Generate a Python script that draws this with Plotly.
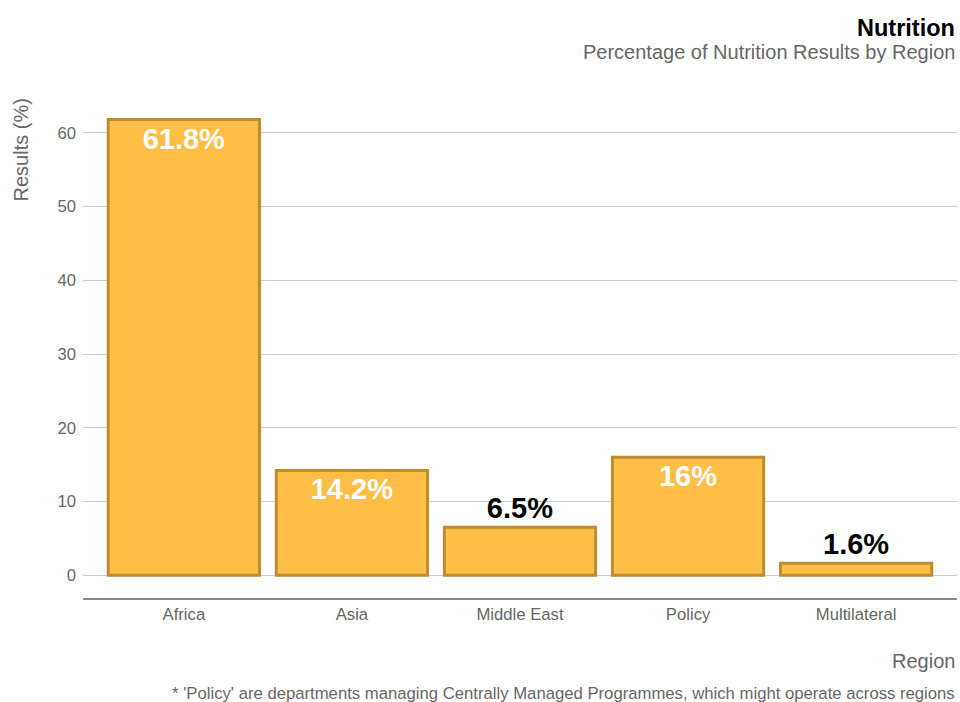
import plotly.graph_objects as go

regions = ["Africa", "Asia", "Middle East", "Policy", "Multilateral"]
results = [61.8, 14.2, 6.5, 16, 1.6]
labels = ["61.8%", "14.2%", "6.5%", "16%", "1.6%"]
positions = ["inside", "inside", "outside", "inside", "outside"]
y_ticks = [0, 10, 20, 30, 40, 50, 60]

FONT = "Liberation Sans, Arial, sans-serif"

fig = go.Figure()
fig.add_trace(go.Bar(
    x=regions, y=results, text=labels, textposition=positions,
    insidetextanchor="end",
    insidetextfont=dict(family=FONT, size=29, color="white", weight="bold"),
    outsidetextfont=dict(family=FONT, size=29, color="black", weight="bold"),
    marker=dict(color="#FFBE46", line=dict(color="#C08C30", width=3)),
    width=0.9, cliponaxis=False, hoverinfo="x+y",
))

fig.update_layout(
    width=960, height=702,
    margin=dict(l=83, r=3, t=96, b=104),
    paper_bgcolor="white", plot_bgcolor="white",
    font=dict(family=FONT, color="#666666"),
    showlegend=False,
    xaxis=dict(
        range=[-0.6, 4.6], showline=True, linecolor="#888888", linewidth=2,
        tickfont=dict(size=16.7, color="#666666"), showgrid=False, ticks="",
    ),
    yaxis=dict(
        range=[-3.1, 65], tickvals=y_ticks, gridcolor="#cccccc", gridwidth=1,
        tickfont=dict(size=16.7, color="#666666"), zeroline=False, ticks="",
        ticklabelstandoff=6,
    ),
    annotations=[
        dict(text="<b>Nutrition</b>", xref="paper", yref="paper", x=1, y=1,
             xanchor="right", yanchor="middle", yshift=68, showarrow=False,
             font=dict(size=23.5, color="black")),
        dict(text="Percentage of Nutrition Results by Region", xref="paper", yref="paper",
             x=1, y=1, xanchor="right", yanchor="middle", yshift=44, showarrow=False,
             font=dict(size=20, color="#666666")),
        dict(text="Results (%)", xref="paper", yref="paper", x=0, y=1, xshift=-63,
             yshift=-1, xanchor="center", yanchor="top", textangle=-90, showarrow=False,
             font=dict(size=20, color="#666666")),
        dict(text="Region", xref="paper", yref="paper", x=1, y=0, xanchor="right",
             yanchor="middle", yshift=-63, showarrow=False,
             font=dict(size=20, color="#666666")),
        dict(text="* 'Policy' are departments managing Centrally Managed Programmes, which might operate across regions",
             xref="paper", yref="paper", x=1, y=0, xanchor="right", yanchor="middle",
             yshift=-95, showarrow=False, font=dict(size=16.7, color="#666666")),
    ],
)

fig.write_html(
    "out.html",
    config={"displayModeBar": False},
    post_script="document.body.style.margin='0';document.body.style.overflow='hidden';",
)
